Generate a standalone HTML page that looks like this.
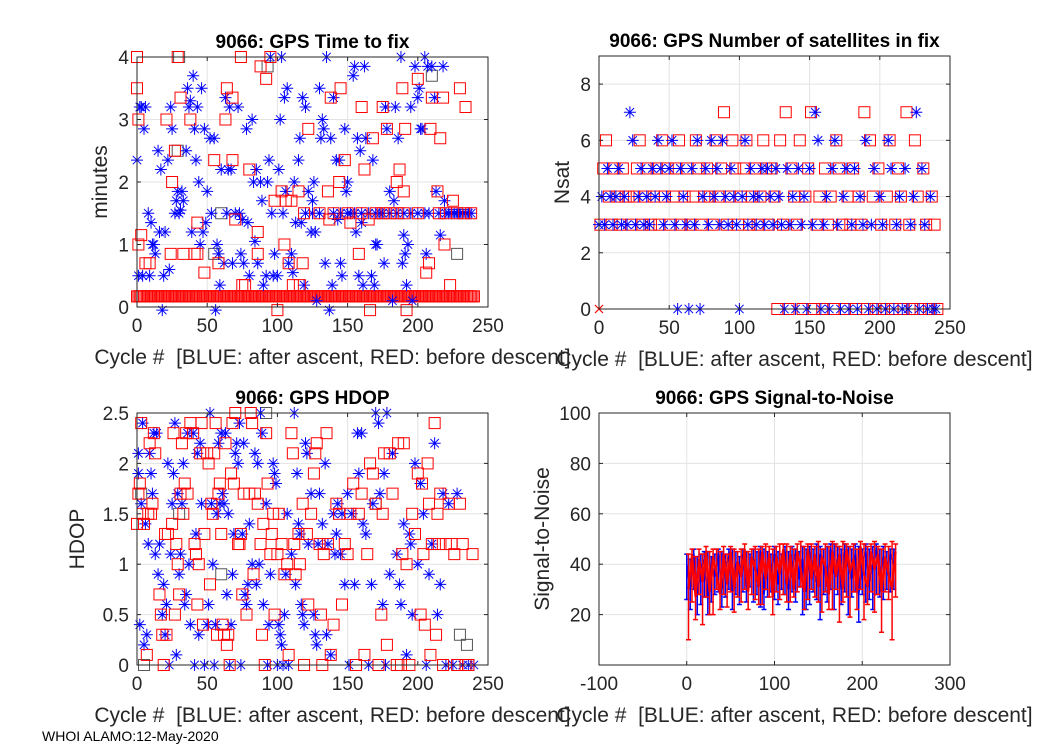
<!DOCTYPE html>
<html><head><meta charset="utf-8"><style>
body{margin:0;background:#fff;}
svg{display:block;font-family:"Liberation Sans",Arial,sans-serif;}
</style></head><body>
<svg id="fig" width="1050" height="750" viewBox="0 0 1050 750" xmlns="http://www.w3.org/2000/svg">
<rect width="1050" height="750" fill="#fff"/>
<text x="42" y="741" font-size="14" fill="#000">WHOI ALAMO:12-May-2020</text>
</svg>
<script>
// ---------- DATA ----------
const tlBlue=[[0,2.35],[1,0.5],[2,3.2],[3,3.2],[4,0.5],[5,2.85],[6,3.2],[8,1.5],[9,0.5],[10,1.35],[11,1.0],[12,1.0],[13,0.85],[15,2.5],[16,1.2],[17,2.2],[18,-0.05],[19,0.5],[20,1.2],[22,2.35],[23,0.6],[24,3.2],[25,2.85],[27,1.5],[28,1.7],[29,1.85],[30,1.5],[31,1.55],[32,1.85],[33,1.7],[35,2.5],[36,3.5],[37,3.2],[38,3.3],[39,1.2],[40,3.7],[41,2.85],[42,2.35],[43,3.2],[44,2.0],[45,1.0],[46,3.5],[47,1.2],[48,2.85],[49,1.35],[50,1.85],[52,2.7],[53,1.5],[55,2.7],[56,-0.05],[57,1.0],[58,0.85],[59,0.35],[60,2.2],[62,0.7],[63,3.35],[64,1.5],[65,2.2],[66,3.2],[67,2.2],[68,0.7],[70,1.5],[72,3.2],[73,1.5],[74,0.85],[75,1.4],[76,0.7],[78,2.85],[79,1.35],[80,0.5],[82,3.0],[83,2.0],[84,1.05],[85,2.2],[86,0.7],[88,2.0],[89,1.7],[90,0.35],[92,0.5],[93,2.0],[94,2.35],[95,4.0],[96,1.5],[97,0.5],[98,0.85],[100,0.5],[101,2.2],[102,3.0],[103,4.0],[104,1.5],[105,3.35],[106,1.85],[107,3.5],[108,0.7],[110,0.85],[111,0.55],[112,2.0],[113,1.35],[115,2.35],[116,2.7],[117,1.35],[118,3.35],[119,0.35],[120,3.2],[122,1.85],[124,1.2],[125,1.7],[126,2.0],[127,1.2],[128,0.1],[130,3.5],[131,2.7],[132,3.0],[133,2.85],[134,0.7],[135,4.0],[137,-0.05],[138,2.7],[139,0.35],[140,3.35],[142,2.35],[143,1.4],[144,2.35],[145,0.7],[146,0.5],[148,2.85],[149,1.85],[150,2.0],[152,1.5],[154,3.7],[155,3.85],[156,1.2],[157,2.7],[158,0.5],[159,2.5],[160,1.35],[161,0.35],[162,3.85],[163,2.7],[165,1.5],[167,0.5],[168,2.35],[169,0.35],[170,1.0],[171,1.0],[173,1.5],[175,1.5],[176,0.7],[177,3.2],[178,2.85],[180,1.85],[182,0.1],[183,1.7],[184,3.2],[186,2.7],[188,4.0],[189,0.7],[190,1.15],[191,0.85],[192,0.35],[193,1.0],[195,3.2],[196,0.1],[198,3.85],[200,3.35],[201,3.5],[202,2.85],[203,2.85],[205,4.0],[206,0.85],[207,3.85],[208,1.5],[210,3.85],[212,3.35],[213,1.85],[215,1.5],[216,1.15],[218,3.85],[219,1.7],[220,1.5],[222,1.5],[224,1.5],[226,1.5],[228,1.5],[230,1.5],[232,1.5],[234,1.5],[236,1.5],[238,1.5],[120,1.5],[125,1.5],[130,1.5],[140,1.5],[145,1.5],[150,1.5],[155,1.5],[160,1.5],[170,1.5],[180,1.5],[185,1.5],[190,1.5],[195,1.5],[200,1.5],[205,1.5]];
const tlRed=[[0,4],[0,3.5],[1,3.0],[1,1.0],[3,1.15],[6,0.7],[9,0.7],[21,3.0],[24,0.85],[25,2.0],[27,2.5],[29,4.0],[31,3.35],[33,0.85],[38,3.0],[41,0.85],[43,1.35],[43,0.85],[48,0.55],[55,2.35],[58,0.7],[63,3.0],[64,3.5],[68,3.35],[68,2.35],[70,1.4],[74,4.0],[75,0.35],[77,0.35],[80,2.2],[86,0.85],[86,1.2],[88,3.85],[92,3.65],[95,4.0],[98,1.7],[100,-0.05],[103,1.85],[105,1.0],[106,1.7],[108,0.7],[110,1.7],[111,0.35],[115,1.85],[116,0.35],[118,0.7],[119,1.5],[122,2.85],[130,1.5],[136,1.85],[137,1.4],[138,3.35],[144,2.0],[145,3.5],[148,2.35],[152,1.35],[158,0.85],[160,3.2],[162,2.2],[165,1.4],[166,-0.05],[168,2.7],[175,3.2],[178,2.85],[180,1.5],[185,2.0],[187,2.2],[189,3.5],[190,1.85],[191,2.85],[192,-0.05],[200,3.65],[206,0.55],[208,0.7],[209,2.85],[210,3.35],[214,1.85],[216,2.7],[218,3.35],[219,1.0],[223,0.35],[225,1.7],[230,3.5],[234,3.2],[200,1.5],[215,1.5],[220,1.5],[228,1.5],[233,1.5],[238,1.5],[140,1.5],[150,1.5],[160,1.5],[170,1.5],[175,1.5],[185,1.5],[190,1.5]];
const tlRedBaseValue=0.17;
const tlRedBaseFirst=0, tlRedBaseLast=240;
const tlGray=[[30,4.0],[93,3.85],[29,2.5],[55,0.85],[210,3.7],[228,0.85],[60,1.5]];

const satCyclesStep=2;
const satBlue=[3,4,3,5,4,3,4,5,3,4, 3,7,6,3,4,5,3,4,3,5, 4,6,5,3,4,5,6,3,0,5, 4,3,0,5,3,6,0,4,5,3, 6,4,5,3,6,4,3,5,4,3, 0,4,6,3,5,4,3,4,5,3, 5,4,3,5,4,3,0,5,3,4, 0,5,3,4,0,5,3,7,6,0, 3,4,0,5,6,3,0,4,5,0, 3,5,0,4,3,6,0,3,5,0, 4,3,0,6,5,0,3,4,0,5, 0,3,4,7,0,5,3,0,4,0, 0];
const satRed=[3,5,6,4,3,5,4,3,5,4, 4,3,4,5,6,3,4,5,3,4, 5,3,6,4,5,3,4,5,6,3, 4,5,3,4,6,5,3,4,5,4, 3,6,4,5,7,3,4,6,5,3, 4,5,6,3,4,5,3,4,6,5, 3,5,4,0,6,3,7,0,5,4, 3,6,0,4,5,7,0,3,4,0, 5,3,4,0,6,5,3,0,4,3, 5,0,4,3,7,0,6,4,0,5, 3,0,4,6,0,3,5,4,0,7, 3,0,6,4,0,5,3,0,4,3, 0];

const hdBlue=[[1,2.1],[1,1.9],[2,0.4],[3,1.6],[4,2.4],[5,0.2],[6,1.4],[7,0.3],[8,1.2],[9,2.1],[10,1.9],[11,1.7],[12,2.3],[13,1.1],[14,2.3],[15,0.9],[16,1.2],[18,0.5],[19,0.8],[20,0.3],[21,0.6],[22,2.0],[23,0],[24,1.1],[25,1.6],[26,1.9],[27,2.4],[28,0.1],[29,1.7],[30,0.9],[31,1.1],[32,1.6],[33,2.0],[34,0.6],[35,0.7],[36,2.3],[37,1.0],[38,0.4],[40,2.3],[41,0],[42,1.3],[43,2.1],[44,0.3],[45,2.2],[46,1.6],[48,0],[50,0.4],[51,0.6],[52,2.5],[53,1.6],[54,1.0],[55,0],[56,0.4],[57,1.5],[58,2.2],[59,1.6],[60,2.3],[61,1.7],[62,1.6],[63,2.3],[64,0.7],[65,1.5],[66,0],[67,0.4],[68,0.9],[69,1.3],[70,2.1],[71,2.2],[72,2.0],[73,2.4],[74,0],[75,1.3],[76,2.2],[77,0.7],[78,0.6],[79,0.8],[80,1.4],[82,1.0],[84,2.1],[85,0.8],[86,2.0],[87,1.0],[88,2.5],[89,2.3],[90,0.6],[92,1.6],[93,0],[94,0.4],[95,0.9],[97,2.0],[98,1.9],[99,1.8],[100,0],[101,0.4],[102,0.3],[103,0.2],[104,0],[105,0.5],[106,0.9],[107,1.5],[108,0],[110,1.1],[112,2.5],[113,0.8],[114,1.9],[115,1.4],[116,1.3],[117,0.6],[118,0.5],[119,0.4],[120,2.2],[121,2.1],[122,1.2],[124,1.7],[126,0.5],[127,0.3],[128,0.2],[129,1.2],[130,1.7],[132,1.4],[134,2.0],[135,0.3],[136,1.2],[138,0.1],[140,1.5],[141,1.1],[142,1.3],[143,1.6],[145,1.1],[146,1.5],[148,0.8],[150,1.7],[151,0],[153,1.5],[155,0.8],[157,2.3],[158,1.9],[160,2.3],[161,1.4],[163,1.3],[165,0],[167,0.8],[168,1.6],[170,2.5],[172,2.4],[173,1.7],[175,0.6],[176,1.9],[177,0],[178,2.5],[180,0.9],[182,2.1],[185,1.1],[187,0.8],[188,0.6],[190,1.4],[192,0.1],[194,1.3],[195,1.2],[196,0.5],[198,2.0],[200,1.0],[202,1.8],[204,1.5],[206,0],[208,0.9],[210,1.2],[212,2.2],[214,0.5],[216,0.8],[218,1.7],[220,0],[222,1.6],[225,0],[228,1.7],[232,0],[236,0],[240,0]];
const hdRed=[[0,1.4],[1,1.7],[2,1.8],[3,2.4],[4,1.5],[5,1.4],[7,0.1],[8,1.5],[9,2.2],[10,1.5],[11,1.6],[12,2.3],[13,2.1],[16,0.7],[17,0.5],[18,0.3],[19,0],[20,1.3],[21,0.3],[22,1.3],[25,1.4],[26,2.3],[27,0.5],[28,1.2],[29,1.0],[30,0.7],[31,1.7],[32,2.2],[33,1.5],[34,1.8],[35,2.3],[36,1.7],[38,2.4],[40,2.3],[41,1.2],[42,1.1],[43,0.6],[44,1.0],[45,2.1],[46,2.4],[47,0.4],[48,1.3],[50,2.1],[51,2.0],[52,0.8],[53,1.6],[54,1.5],[55,2.1],[56,2.4],[57,0.3],[58,1.7],[59,1.8],[60,1.3],[61,0.4],[62,0.3],[63,2.2],[64,0.2],[65,0.3],[66,0],[67,1.9],[68,2.4],[69,1.8],[70,2.5],[72,1.2],[73,1.2],[74,1.3],[75,0.7],[76,1.7],[78,0.5],[80,1.7],[81,2.5],[82,2.4],[83,0.9],[84,1.7],[86,1.6],[88,1.2],[89,0.3],[90,1.4],[91,0],[92,2.3],[93,1.8],[95,1.1],[96,1.3],[97,1.5],[98,0.5],[100,1.1],[101,1.5],[103,1.2],[105,0.9],[107,1.0],[108,0.1],[110,2.3],[111,2.1],[112,1.2],[113,0.9],[115,1.3],[116,1.0],[118,1.6],[119,0],[121,1.3],[122,0.6],[124,1.5],[126,1.9],[127,2.1],[128,2.2],[130,1.2],[131,0.5],[132,0],[133,1.1],[135,2.3],[136,1.2],[138,0.1],[140,0.4],[142,1.6],[144,1.5],[146,0.6],[148,1.2],[150,1.1],[152,1.5],[154,1.8],[156,0],[158,1.5],[160,1.7],[162,0.1],[164,1.1],[166,2.0],[168,1.9],[170,1.6],[172,0],[174,0.5],[175,1.5],[176,2.1],[178,0.2],[180,2.1],[182,1.7],[185,0],[186,2.2],[188,0],[189,1.1],[190,2.2],[192,1.0],[194,0],[196,1.5],[198,1.3],[200,1.9],[202,0.5],[203,1.8],[204,1.1],[205,0.4],[207,2.0],[208,1.6],[209,0.1],[210,1.2],[212,2.4],[213,0.3],[214,1.5],[215,1.2],[216,1.7],[218,0],[220,1.2],[222,1.6],[224,1.2],[226,1.1],[228,0],[230,1.6],[232,1.2],[234,0],[236,0],[239,1.1]];
const hdGray=[[3,1.7],[5,0],[30,1.5],[60,0.9],[92,2.5],[170,1.6],[230,0.3],[235,0.2]];

const snStep=4;
const snBlueStart=0;
const snBlueMean=[40,30,44,28,38,42,26,41,35,44,30,39,43,29,40,36,44,31,38,42,33,45,28,40,37,44,32,41,45,30,39,44,34,42,29,45,38,33,44,40,31,46,36,42,30,45,39,34,44,28,41,45,33,40,46,35,43,38,44,40];
const snBlueLo=[26,22,30,20,24,27,20,25,28,29,23,27,30,22,28,24,29,25,31,25,28,23,22,27,29,26,24,30,28,22,29,25,31,20,22,24,29,26,18,28,25,30,22,28,24,29,20,27,29,17,28,25,26,22,28,27,26,30,29,30];
const snBlueHi=[44,42,46,43,44,45,45,43,44,46,45,44,46,46,45,43,46,45,44,46,45,47,46,45,44,47,45,44,47,45,47,46,45,47,46,47,46,48,47,46,47,48,48,47,46,48,47,46,48,47,46,48,46,47,48,46,47,45,46,46];
const snRedStart=2;
const snRedMean=[30,44,27,42,33,45,29,43,36,28,44,32,45,30,41,35,46,29,43,38,31,45,34,44,27,43,36,46,32,44,30,45,38,29,46,34,44,31,43,39,28,45,35,44,30,46,37,42,29,47,36,31,45,38,44,29,43,36,30,45];
const snRedLo=[10,25,18,28,16,27,20,20,30,22,28,23,29,21,27,25,30,22,28,26,24,24,30,27,20,29,26,28,25,25,27,29,31,22,26,30,27,25,21,29,22,22,30,17,25,27,19,29,22,30,18,24,29,21,28,13,29,26,10,27];
const snRedHi=[44,46,43,46,44,47,45,46,46,45,47,44,47,46,45,46,48,45,46,47,46,47,48,47,46,47,48,48,48,47,46,48,49,47,48,48,47,49,46,48,47,49,48,47,49,48,47,48,46,49,48,47,48,49,47,46,48,47,49,48];

const xTicks250=[0,50,100,150,200,250];
const tlYTicks=[0,1,2,3,4];
const trYTicks=[0,2,4,6,8];
const blYTicks=[0,0.5,1,1.5,2,2.5];
const blYTickLabels=["0","0.5","1","1.5","2","2.5"];
const brXTicks=[-100,0,100,200,300];
const brYTicks=[20,40,60,80,100];
const xLabelText="Cycle #\u00a0\u00a0[BLUE: after ascent, RED: before descent]";

// ---------- DRAWING ----------
const NS="http://www.w3.org/2000/svg";
const fig=document.getElementById('fig');
function mk(tag,attrs,parent){const e=document.createElementNS(NS,tag);for(const k in attrs)e.setAttribute(k,attrs[k]);(parent||fig).appendChild(e);return e;}
function axes(name,L,T,R,B,x0,x1,y0,y1,xt,yt,ytl,title,ylab,xlabOffset){
  const g=mk('g',{});
  
  
  const sx=v=>L+(v-x0)/(x1-x0)*(R-L), sy=v=>B-(v-y0)/(y1-y0)*(B-T);
  for(const t of xt){const l=mk('line',{x1:sx(t),x2:sx(t),y1:T,y2:B,stroke:'#e3e3e3','stroke-width':1},g);}
  for(const t of yt){const l=mk('line',{x1:L,x2:R,y1:sy(t),y2:sy(t),stroke:'#e3e3e3','stroke-width':1},g);}
  const plot=mk('g',{},g);
  
  
  return {g,plot,sx,sy,finish(){
    const fr=mk('rect',{x:L,y:T,width:R-L,height:B-T,fill:'none',stroke:'#262626','stroke-width':1},g);
    
    xt.forEach(t=>{const x=sx(t);mk('line',{x1:x,x2:x,y1:B,y2:B-4,stroke:'#262626'},g);mk('line',{x1:x,x2:x,y1:T,y2:T+4,stroke:'#262626'},g);
      const tx=mk('text',{x:x,y:B+25,'font-size':19,'text-anchor':'middle',fill:'#262626'},g);tx.textContent=t;
      });
    yt.forEach((t,i)=>{const y=sy(t);mk('line',{x1:L,x2:L+4,y1:y,y2:y,stroke:'#262626'},g);mk('line',{x1:R,x2:R-4,y1:y,y2:y,stroke:'#262626'},g);
      const tx=mk('text',{x:L-8,y:y+7,'font-size':19,'text-anchor':'end',fill:'#262626'},g);tx.textContent=ytl?ytl[i]:t;
      });
    const ti=mk('text',{x:(L+R)/2,y:T-9,'font-size':19,'font-weight':'bold','text-anchor':'middle',fill:'#000'},g);ti.textContent=title;
    
    const xl=mk('text',{x:(L+R)/2+20,y:B+57,'font-size':21,'text-anchor':'middle',fill:'#262626'},g);xl.textContent=xLabelText;
    
    const yx=L-xlabOffset, yy=(T+B)/2;
    const yl=mk('text',{x:yx,y:yy,'font-size':21,'text-anchor':'middle',fill:'#262626',transform:`rotate(-90 ${yx} ${yy})`},g);yl.textContent=ylab;
    
  }};
}
function star(p,x,y,c){const r=6,d=4.2;
  const e=mk('path',{d:`M${x-r} ${y}H${x+r}M${x} ${y-r}V${y+r}M${x-d} ${y-d}L${x+d} ${y+d}M${x-d} ${y+d}L${x+d} ${y-d}`,stroke:c,'stroke-width':1,fill:'none'},p);
  }
function sq(p,x,y,c){const e=mk('rect',{x:x-5.5,y:y-5.5,width:11,height:11,stroke:c,'stroke-width':1,fill:'none'},p);
  }

// Top-left
const A=axes('time-to-fix-chart',137,57,488,307,0,250,0,4,xTicks250,tlYTicks,null,'9066: GPS Time to fix','minutes',30);
tlGray.forEach(([c,v])=>sq(A.plot,A.sx(c),A.sy(v),'#555'));
for(let c=tlRedBaseFirst;c<=tlRedBaseLast;c++)sq(A.plot,A.sx(c),A.sy(tlRedBaseValue),'red');
tlBlue.forEach(([c,v])=>star(A.plot,A.sx(c),A.sy(v),'blue'));
tlRed.forEach(([c,v])=>sq(A.plot,A.sx(c),A.sy(v),'red'));
A.finish();

// Top-right
const B=axes('satellites-chart',599,56,950,309,0,250,0,9,xTicks250,trYTicks,null,'9066: GPS Number of satellites in fix','Nsat',30);
satRed.forEach((v,i)=>{if(i===0&&v===0)return;sq(B.plot,B.sx(i*satCyclesStep+1),B.sy(v),'red');});
satBlue.forEach((v,i)=>star(B.plot,B.sx(i*satCyclesStep),B.sy(v),'blue'));
{const x=B.sx(0),y=B.sy(0);const e=mk('path',{d:`M${x-4} ${y-4}L${x+4} ${y+4}M${x-4} ${y+4}L${x+4} ${y-4}`,stroke:'red','stroke-width':1.2},B.plot);}
B.finish();

// Bottom-left
const C=axes('hdop-chart',137,413,488,665,0,250,0,2.5,xTicks250,blYTicks,blYTickLabels,'9066: GPS HDOP','HDOP',53);
hdGray.forEach(([c,v])=>sq(C.plot,C.sx(c),C.sy(v),'#555'));
hdBlue.forEach(([c,v])=>star(C.plot,C.sx(c),C.sy(v),'blue'));
hdRed.forEach(([c,v])=>sq(C.plot,C.sx(c),C.sy(v),'red'));
C.finish();

// Bottom-right
const D=axes('signal-to-noise-chart',599,413,950,665,-100,300,0,100,brXTicks,brYTicks,null,'9066: GPS Signal-to-Noise','Signal-to-Noise',50);
function errSeries(start,mean,lo,hi,col,name,lw){
  const pts=mean.map((m,i)=>`${D.sx(start+i*snStep)},${D.sy(m)}`).join(' ');
  const pl=mk('polyline',{points:pts,fill:'none',stroke:col,'stroke-width':lw},D.plot);
  
  mean.forEach((m,i)=>{const x=D.sx(start+i*snStep);const y1=D.sy(lo[i]),y2=D.sy(hi[i]);
    const e=mk('path',{d:`M${x} ${y1}V${y2}M${x-2.5} ${y1}H${x+2.5}M${x-2.5} ${y2}H${x+2.5}`,stroke:col,'stroke-width':1.5,fill:'none'},D.plot);
    });
}
errSeries(snBlueStart,snBlueMean,snBlueLo,snBlueHi,'blue','blue-snr',1.8);
errSeries(snRedStart,snRedMean,snRedLo,snRedHi,'red','red-snr',2.2);
D.finish();
</script>
</body></html>
